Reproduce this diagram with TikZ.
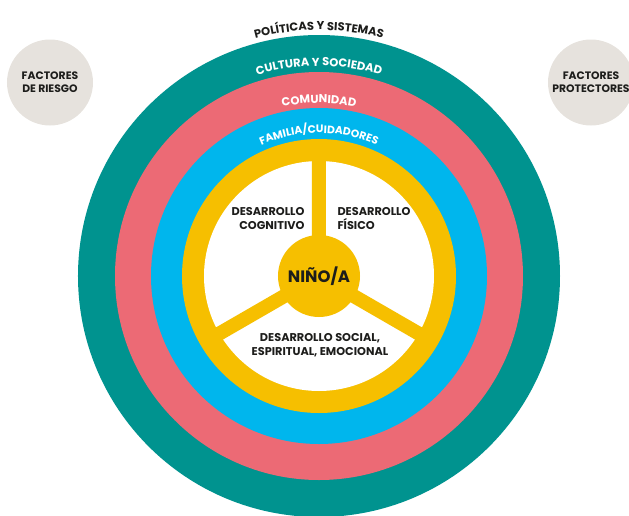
\documentclass[tikz,border=0pt]{standalone}
\usepackage{fontspec}
\setmainfont{Poppins}
\usetikzlibrary{decorations.text}
\definecolor{verdeazul}{HTML}{00938F}
\definecolor{rosa}{HTML}{EC6A75}
\definecolor{celeste}{HTML}{00B6ED}
\definecolor{amarillo}{HTML}{F6BF00}
\definecolor{gris}{HTML}{E6E2DD}
\definecolor{tinta}{HTML}{1D1D1B}
\newcommand{\bandfont}{\fontsize{11.5}{13}\selectfont\bfseries}
\newcommand{\familiafont}{\fontsize{10.8}{13}\selectfont\bfseries}
\begin{document}
\begin{tikzpicture}[x=1pt,y=1pt,
    lbl/.style={text=tinta, font=\fontsize{11.3}{14}\selectfont\bfseries},
    factor/.style={circle, fill=gris, minimum size=86pt, inner sep=0pt, align=center, text=tinta, font=\fontsize{10.8}{13}\selectfont\bfseries}]
    \useasboundingbox (-319,-239) rectangle (310,276);
    % capas del sistema
    \fill[verdeazul] (0,0) circle (241);
    \fill[rosa] (0,0) circle (204);
    \fill[celeste] (0,0) circle (168);
    \fill[amarillo] (0,0) circle (137);
    \fill[white] (0,0) circle (115);
    \draw[amarillo, line width=14pt] (0,0) -- (90:120) (0,0) -- (210:120) (0,0) -- (330:120);
    \node[circle, fill=amarillo, minimum size=82pt, inner sep=0pt, text=tinta, font=\fontsize{16.5}{18}\selectfont\bfseries] (nino) at (0,0) {NIÑO/A};
    % textos curvos
    \path[decorate, decoration={text along path, text align=center, text color=tinta, text={|\bandfont|POLÍTICAS Y SISTEMAS}}] (170:246) arc[start angle=170, end angle=10, radius=246];
    \path[decorate, decoration={text along path, text align=center, text color=white, text={|\bandfont|CULTURA Y SOCIEDAD}}] (170:210) arc[start angle=170, end angle=10, radius=210];
    \path[decorate, decoration={text along path, text align=center, text color=white, text={|\bandfont|COMUNIDAD}}] (170:173) arc[start angle=170, end angle=10, radius=173];
    \path[decorate, decoration={text along path, text align=center, text color=white, text={|\familiafont|FAMILIA/CUIDADORES}}] (170:143) arc[start angle=170, end angle=10, radius=143];
    % areas de desarrollo
    \node[lbl, align=right, anchor=east] (cognitivo) at (-11,57) {DESARROLLO\\COGNITIVO};
    \node[lbl, align=left, anchor=west] (fisico) at (15,57) {DESARROLLO\\FÍSICO};
    \node[lbl, align=center] (social) at (1,-69) {DESARROLLO SOCIAL,\\ESPIRITUAL, EMOCIONAL};
    % factores
    \node[factor] (riesgo) at (-269,193.5) {FACTORES\\DE RIESGO};
    \node[factor] (protectores) at (272,193.5) {FACTORES\\PROTECTORES};
\end{tikzpicture}
\end{document}
